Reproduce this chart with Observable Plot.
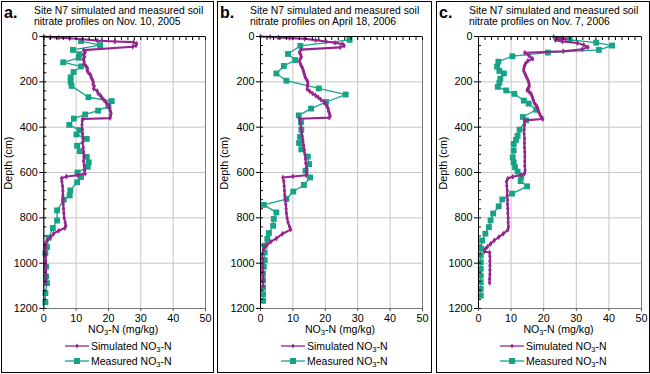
<!DOCTYPE html>
<html><head><meta charset="utf-8">
<script src="https://cdn.jsdelivr.net/npm/d3@7"></script>
<script src="https://cdn.jsdelivr.net/npm/@observablehq/plot@0.6"></script>
<style>
body{margin:0;background:#fff;font-family:"Liberation Sans",Arial,Helvetica,sans-serif;color:#000;}
#root{position:relative;width:650px;height:374px;background:#fff;overflow:hidden;}
.panel{position:absolute;top:1px;height:372px;border:1px solid #000;box-sizing:border-box;}
.panel svg.plot{position:absolute;left:0;top:0;}
.letter{position:absolute;left:2px;top:2px;font-weight:bold;font-size:16px;line-height:18px;}
.title{position:absolute;left:32px;top:3px;font-size:10.4px;line-height:11px;white-space:nowrap;}
.ylab{position:absolute;left:6px;top:161px;font-size:10.7px;white-space:nowrap;transform:translate(-50%,-50%) rotate(-90deg);}
.xlab{position:absolute;top:321px;font-size:10.6px;white-space:nowrap;transform:translateX(-50%);}
.leg{position:absolute;font-size:10.5px;white-space:nowrap;display:flex;align-items:center;height:12px;}
.leg svg{margin-right:2px;}
sub{font-size:0.72em;vertical-align:-0.3em;line-height:0;}
</style></head>
<body><div id="root"></div>
<script>
// ---- data ----
const depthTicks = [0, 200, 400, 600, 800, 1000, 1200];
const no3Ticks = [0, 10, 20, 30, 40, 50];
const panelLetters = ["a.", "b.", "c."];
const titleLine1 = ["Site N7 simulated and measured soil", "Site N7 simulated and measured soil", "Site N7 simulated and measured soil"];
const titleLine2 = ["nitrate profiles on Nov. 10, 2005", "nitrate profiles on April 18, 2006", "nitrate profiles on Nov. 7, 2006"];
const yLabel = "Depth (cm)";
const seriesNames = ["Simulated", "Measured"];

// [depth cm, NO3-N mg/kg]
const simA = [[0,0],[3,2],[5,4.6],[8,8],[12,12],[18,16.5],[22,22],[25,27.8],[32,28.7],[40,28.5],[45,27.5],[60,12.3],[70,12.8],[80,12.3],[90,12.6],[100,12.2],[110,12.5],[120,12.4],[130,13.0],[140,13.5],[150,13.4],[160,13.8],[170,14.5],[180,14.6],[190,15.0],[200,15.3],[210,15.2],[220,15.6],[230,15.4],[240,16.5],[250,16.8],[260,17.5],[270,18.0],[280,18.6],[290,19.2],[300,19.8],[310,20.2],[320,20.4],[330,20.6],[340,20.8],[350,20.6],[360,20.5],[364,12.0],[370,11.9],[390,11.8],[410,11.9],[430,12.0],[450,12.1],[470,12.0],[490,12.2],[510,12.3],[530,12.4],[550,12.3],[570,12.5],[590,12.6],[605,12.8],[612,10.5],[618,7.0],[625,5.5],[640,5.6],[660,5.8],[680,5.9],[700,5.9],[720,6.0],[740,6.0],[760,6.1],[780,6.2],[800,6.3],[820,6.6],[835,6.8],[845,6.5],[857,4.6],[870,3.0],[886,2.1],[900,1.0],[916,0.4],[930,0.5],[950,0.5],[970,0.5],[990,0.6],[1010,0.6],[1030,0.6],[1050,0.7],[1070,0.7],[1090,0.7]];
const measA = [[20,11.5],[38,17.4],[59,9.0],[78,11.0],[94,10.8],[114,6.0],[132,11.5],[157,9.2],[180,8.3],[200,8.3],[218,8.6],[268,13.8],[285,21.0],[307,20.0],[327,16.8],[344,12.8],[362,9.3],[390,7.9],[413,11.0],[432,10.1],[452,13.3],[482,10.3],[506,11.1],[531,13.3],[555,13.9],[575,13.6],[600,10.4],[620,11.5],[643,10.3],[679,8.2],[701,8.0],[720,6.2],[767,4.1],[812,4.1],[845,2.8],[888,1.5],[929,1.0],[956,0.5],[1015,0.7],[1059,0.7],[1088,1.0],[1132,0.5],[1172,0.5]];

const simB = [[0,0],[2,3],[4,5.5],[7,9],[10,13.6],[16,17],[22,20.2],[28,23],[33,25.3],[41,25.8],[48,24.6],[58,12.5],[70,12.0],[80,12.4],[90,12.6],[100,12.2],[110,12.1],[120,12.3],[130,12.6],[140,13.0],[150,13.2],[160,13.4],[170,13.6],[180,13.8],[190,14.2],[200,14.6],[210,14.6],[220,14.5],[232,14.4],[242,15.2],[252,16.1],[260,17.0],[268,17.8],[278,18.6],[290,19.7],[300,20.2],[310,20.6],[320,20.9],[330,21.0],[340,21.3],[350,21.5],[358,21.2],[363,12.0],[380,12.3],[400,12.5],[420,12.7],[440,12.9],[460,13.1],[480,13.3],[500,13.5],[520,13.7],[540,13.9],[560,14.0],[580,14.2],[600,14.3],[612,14.1],[618,10.0],[622,6.9],[640,7.2],[660,7.3],[680,7.4],[700,7.5],[720,7.7],[740,7.8],[760,7.9],[780,8.0],[800,8.2],[820,8.5],[840,9.0],[852,9.3],[870,6.8],[891,4.9],[905,3.2],[918,2.1],[930,1.2],[941,0.9],[960,0.6],[980,0.6],[1000,0.7],[1020,0.7],[1040,0.7],[1060,0.8],[1080,0.8],[1100,0.8]];
const measB = [[15,27.5],[41,12.3],[77,8.5],[104,10.7],[130,7.2],[163,4.9],[195,8.0],[229,18.0],[256,26.3],[289,20.2],[318,15.6],[348,11.8],[378,12.5],[411,12.6],[443,12.2],[470,11.9],[498,12.6],[530,14.6],[563,15.0],[592,13.9],[622,15.3],[655,13.4],[684,10.1],[717,8.0],[743,1.0],[776,4.9],[805,4.1],[835,3.9],[867,2.6],[893,2.1],[923,1.3],[953,1.3],[987,1.3],[1016,1.0],[1046,0.8],[1076,0.8],[1108,0.8],[1137,0.8],[1166,0.8]];

const simC = [[2,23.1],[7,25.7],[11,26.7],[16,23.6],[22,25.7],[29,30.3],[37,32.3],[47,33.6],[56,31.8],[65,26.0],[72,14.2],[85,15.5],[98,16.6],[108,15.1],[120,14.4],[130,14.1],[142,13.9],[152,13.9],[165,14.3],[175,14.6],[187,15.0],[197,15.3],[208,15.5],[219,15.6],[228,15.2],[237,14.9],[245,15.6],[252,16.1],[262,16.4],[271,16.6],[282,16.9],[293,17.1],[302,17.6],[311,18.0],[320,18.2],[330,18.4],[340,18.7],[349,19.0],[357,19.4],[364,19.7],[370,14.1],[390,14.1],[410,14.0],[430,14.0],[450,14.1],[470,14.1],[490,14.1],[510,14.2],[530,14.2],[550,14.2],[570,14.2],[590,14.3],[604,14.1],[611,13.1],[619,10.5],[626,9.0],[640,8.6],[660,8.7],[680,8.8],[700,8.8],[720,8.9],[740,8.9],[760,9.0],[780,9.0],[800,9.1],[820,9.1],[840,9.2],[853,9.0],[870,7.6],[885,6.2],[900,4.8],[914,3.7],[927,2.8],[937,2.1],[948,1.8],[953,3.4],[970,3.5],[990,3.5],[1010,3.5],[1030,3.5],[1050,3.5],[1070,3.4],[1086,3.4]];
const measC = [[15,28.0],[27,36.1],[40,41.0],[59,36.9],[71,21.3],[87,10.4],[111,6.1],[133,5.7],[152,6.4],[163,7.8],[186,6.7],[204,6.4],[222,5.9],[238,8.5],[253,11.0],[283,13.9],[296,15.4],[323,17.7],[355,13.6],[370,14.6],[411,12.6],[438,12.0],[456,11.5],[474,10.8],[503,10.8],[533,10.5],[556,10.8],[577,11.2],[596,12.0],[619,13.1],[638,12.9],[661,14.9],[693,10.3],[719,7.3],[749,6.2],[781,4.5],[811,3.7],[841,3.2],[870,2.1],[900,1.1],[936,0.8],[966,0.7],[996,0.7],[1025,0.7],[1055,0.7],[1084,0.7],[1114,0.7],[1143,0.7]];

const simSeries = [simA, simB, simC];
const measSeries = [measA, measB, measC];

// ---- styles / layout ----
const SIM = "#95268f", MEAS = "#17a386";
const layouts = [
  {left: 1,   w: 213, ml: 41.3, mr: 8},
  {left: 217, w: 215, ml: 42,   mr: 9},
  {left: 436, w: 214, ml: 41,   mr: 8}
];
const root = document.getElementById("root");
const toObj = a => a.map(([d, v]) => ({depth: d, no3: v}));
const legSim = '<svg width="24" height="10"><line x1="0" y1="5" x2="24" y2="5" stroke="'+SIM+'" stroke-width="1.3"/><path d="M12,2.4L13.6,5L12,7.6L10.4,5Z" fill="'+SIM+'"/></svg>';
const legMeas = '<svg width="24" height="10"><line x1="0" y1="5" x2="24" y2="5" stroke="'+MEAS+'" stroke-width="1.3"/><rect x="9" y="2" width="6" height="6" fill="'+MEAS+'"/></svg>';
const no3Html = 'NO<sub>3</sub>-N';

layouts.forEach((L, i) => {
  const div = document.createElement("div");
  div.className = "panel";
  div.style.left = L.left + "px";
  div.style.width = L.w + "px";
  const cw = L.w - 2;
  const s = toObj(simSeries[i]), m = toObj(measSeries[i]);
  const plot = Plot.plot({
    width: cw, height: 334,
    marginTop: 34, marginBottom: 28, marginLeft: L.ml, marginRight: L.mr,
    style: {fontFamily: '"Liberation Sans", Arial, sans-serif', fontSize: "10.8px", color: "#000", background: "transparent", overflow: "visible"},
    x: {domain: [0, 50]},
    y: {domain: [0, 1200], reverse: true},
    marks: [
      Plot.gridX(no3Ticks.slice(1, -1), {stroke: "#c6c6c6", strokeOpacity: 1, strokeWidth: 1}),
      Plot.gridY(depthTicks.slice(1, -1), {stroke: "#c6c6c6", strokeOpacity: 1, strokeWidth: 1}),
      Plot.frame({stroke: "#7a7a7a", strokeWidth: 1}),
      Plot.line(m, {x: "no3", y: "depth", stroke: MEAS, strokeWidth: 1.3}),
      Plot.dot(m, {x: "no3", y: "depth", symbol: "square", r: 3.3, fill: MEAS, stroke: "none"}),
      Plot.line(s, {x: "no3", y: "depth", stroke: SIM, strokeWidth: 2.1}),
      Plot.dot(s, {x: "no3", y: "depth", symbol: "diamond", r: 1.8, fill: SIM, stroke: "none"}),
      Plot.ruleX([0], {stroke: "#000", strokeWidth: 1}),
      Plot.ruleY([0], {stroke: "#000", strokeWidth: 1}),
      Plot.axisY(depthTicks, {anchor: "left", tickSize: 4, tickPadding: 2, tickFormat: d => String(d), label: null, stroke: "#000"}),
      Plot.axisY(d3.range(0, 1201, 40), {anchor: "left", tickSize: -3, tickFormat: () => "", label: null, stroke: "#000"}),
      Plot.axisX(no3Ticks, {anchor: "bottom", tickSize: 3, tickPadding: 3, tickFormat: d => String(d), label: null, stroke: "#555"}),
      Plot.axisX(d3.range(0, 51, 2), {anchor: "top", tickSize: -3, tickFormat: () => "", label: null, stroke: "#000"})
    ]
  });
  plot.classList.add("plot");
  div.appendChild(plot);

  const letter = document.createElement("div");
  letter.className = "letter"; letter.textContent = panelLetters[i];
  div.appendChild(letter);
  const title = document.createElement("div");
  title.className = "title";
  title.innerHTML = titleLine1[i] + "<br>" + titleLine2[i];
  div.appendChild(title);
  const yl = document.createElement("div");
  yl.className = "ylab"; yl.textContent = yLabel;
  div.appendChild(yl);
  const xl = document.createElement("div");
  xl.className = "xlab";
  xl.style.left = (L.ml + (cw - L.ml - L.mr) / 2 - 1) + "px";
  xl.innerHTML = no3Html + " (mg/kg)";
  div.appendChild(xl);
  const l1 = document.createElement("div");
  l1.className = "leg"; l1.style.left = "63px"; l1.style.top = "338px";
  l1.innerHTML = legSim + "<span>" + seriesNames[0] + " " + no3Html + "</span>";
  div.appendChild(l1);
  const l2 = document.createElement("div");
  l2.className = "leg"; l2.style.left = "63px"; l2.style.top = "353px";
  l2.innerHTML = legMeas + "<span>" + seriesNames[1] + " " + no3Html + "</span>";
  div.appendChild(l2);
  root.appendChild(div);
});
</script></body></html>
